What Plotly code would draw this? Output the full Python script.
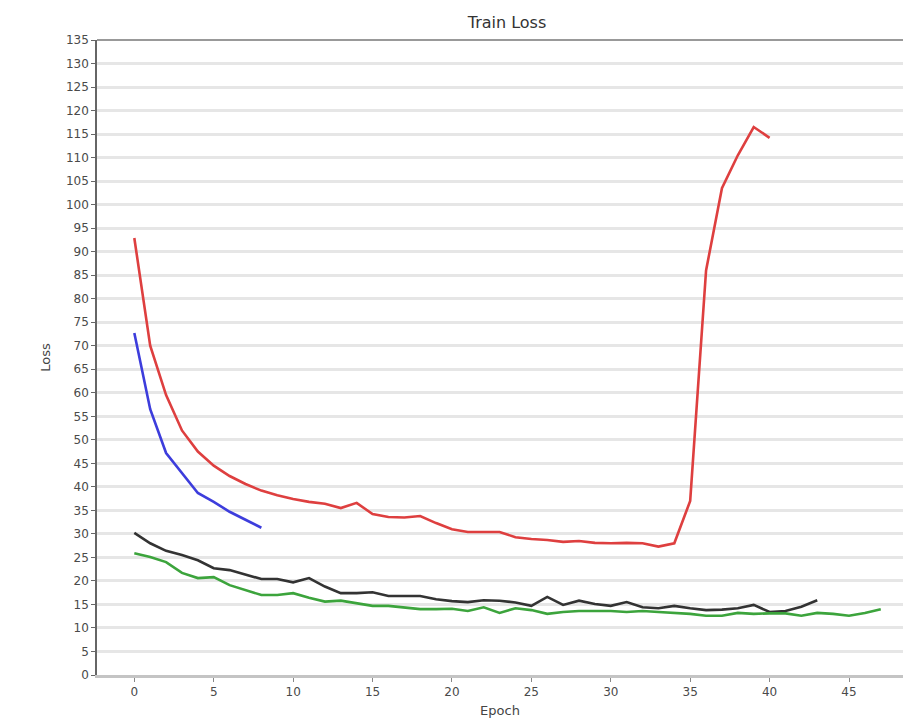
import plotly.graph_objects as go

red_epochs = list(range(0, 41))
red_loss = [92.9, 70.0, 59.5, 52.0, 47.5, 44.5, 42.3, 40.6, 39.2, 38.2,
            37.4, 36.8, 36.4, 35.5, 36.6, 34.2, 33.6, 33.5, 33.8, 32.3,
            31.0, 30.4, 30.4, 30.4, 29.3, 28.9, 28.7, 28.3, 28.5, 28.1,
            28.0, 28.1, 28.0, 27.3, 28.0, 37.0, 86.0, 103.5, 110.5, 116.5,
            114.2]

blue_epochs = list(range(0, 9))
blue_loss = [72.7, 56.5, 47.2, 43.0, 38.7, 36.8, 34.7, 33.0, 31.3]

black_epochs = list(range(0, 44))
black_loss = [30.2, 28.0, 26.4, 25.5, 24.4, 22.7, 22.3, 21.3, 20.4, 20.4,
              19.7, 20.6, 18.8, 17.4, 17.4, 17.6, 16.8, 16.8, 16.8, 16.1,
              15.7, 15.5, 15.9, 15.8, 15.4, 14.7, 16.6, 14.9, 15.8, 15.1,
              14.7, 15.5, 14.4, 14.2, 14.7, 14.2, 13.8, 13.9, 14.2, 14.9,
              13.4, 13.6, 14.5, 15.9]

green_epochs = list(range(0, 48))
green_loss = [25.9, 25.1, 24.0, 21.7, 20.6, 20.8, 19.1, 18.1, 17.0, 17.0,
              17.4, 16.4, 15.6, 15.8, 15.3, 14.7, 14.7, 14.4, 14.0, 14.0,
              14.1, 13.6, 14.4, 13.2, 14.2, 13.8, 13.0, 13.4, 13.6, 13.6,
              13.6, 13.4, 13.6, 13.4, 13.2, 13.0, 12.6, 12.6, 13.2, 13.0,
              13.1, 13.1, 12.6, 13.2, 13.0, 12.6, 13.2, 14.0]

x_ticks = [0, 5, 10, 15, 20, 25, 30, 35, 40, 45]
y_ticks = list(range(0, 140, 5))

fig = go.Figure()
series = [
    (red_epochs, red_loss, "#de3f3f"),
    (blue_epochs, blue_loss, "#3d3ddc"),
    (black_epochs, black_loss, "#333333"),
    (green_epochs, green_loss, "#3ca43c"),
]
for xs, ys, col in series:
    fig.add_trace(go.Scatter(x=xs, y=ys, mode="lines",
                             line=dict(color=col, width=2.6),
                             showlegend=False))

fig.update_layout(
    width=903, height=724,
    margin=dict(l=97, r=0, t=40, b=49, autoexpand=False),
    paper_bgcolor="white", plot_bgcolor="white",
    font=dict(family="DejaVu Sans", size=12, color="#4a4a4a"),
    title=dict(text="Train Loss", x=507 / 903, xanchor="center",
               y=1 - 22 / 724, yanchor="middle", yref="container",
               font=dict(size=16, color="#333333")),
    showlegend=False,
)
fig.update_xaxes(
    range=[-2.35, 48.4], tickvals=x_ticks, ticktext=[str(v) for v in x_ticks],
    showgrid=False, zeroline=False,
    showline=True, linecolor="#c4c4c4", linewidth=2.5, mirror=False,
    ticks="outside", ticklen=4, tickcolor="#888888",
    tickfont=dict(size=12),
    title=dict(text="Epoch", font=dict(size=13, color="#444444"), standoff=8),
)
fig.update_yaxes(
    range=[0, 135], tickvals=y_ticks, ticktext=[str(v) for v in y_ticks],
    showgrid=True, gridcolor="#e6e6e6", gridwidth=3, zeroline=False,
    showline=True, linecolor="#666666", linewidth=1.5,
    ticks="outside", ticklen=4, tickcolor="#666666",
    tickfont=dict(size=12),
    title=dict(text="Loss", font=dict(size=13, color="#444444"), standoff=12),
)
fig.add_shape(type="line", xref="paper", yref="paper", x0=0, x1=1, y0=1, y1=1,
              line=dict(color="#777777", width=1.5))

fig.write_html("out.html",
               config={"displayModeBar": False},
               post_script="document.body.style.margin='0';document.body.style.overflow='hidden';")
